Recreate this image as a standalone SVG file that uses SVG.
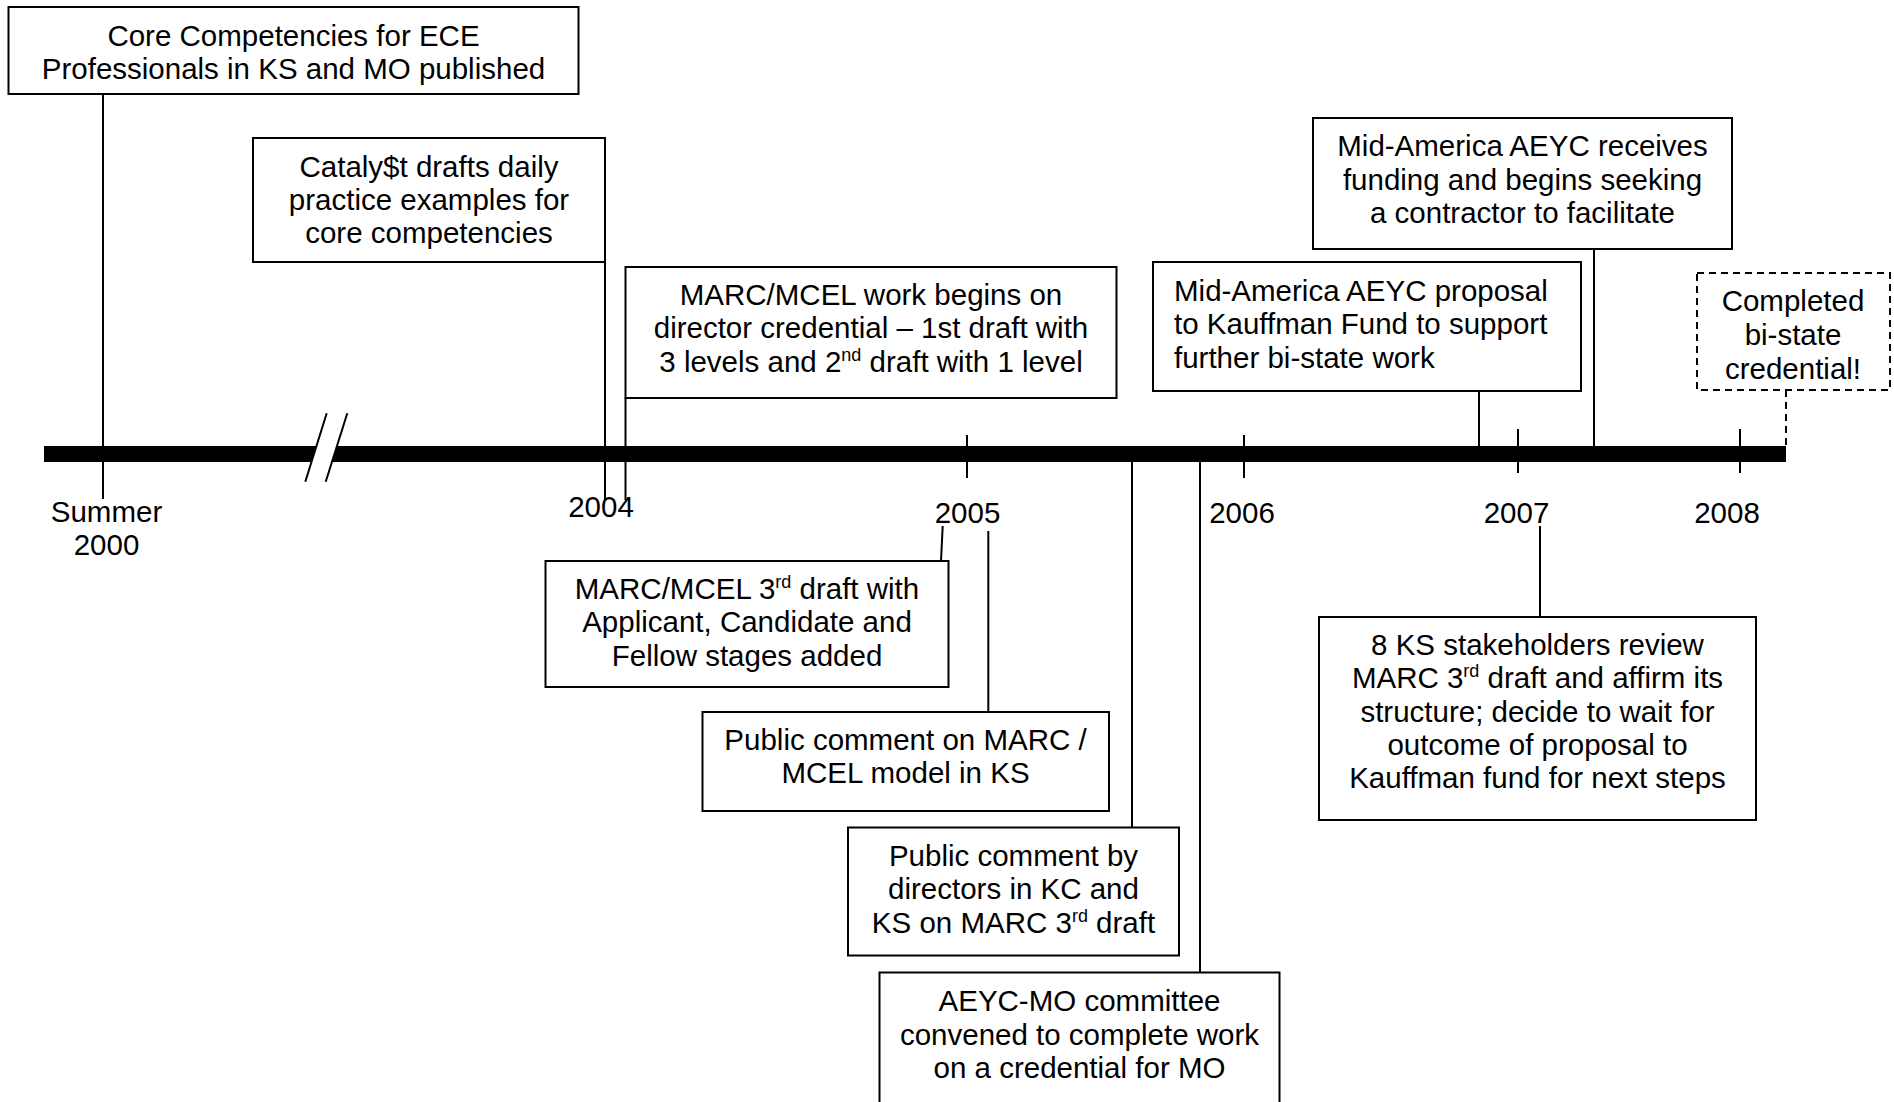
<svg xmlns="http://www.w3.org/2000/svg" width="1894" height="1102" viewBox="0 0 1894 1102">
<style>
  .box { fill: #fff; stroke: #000; stroke-width: 2; }
  .dash { fill: #fff; stroke: #000; stroke-width: 2; stroke-dasharray: 7 5; }
  .ln { stroke: #000; stroke-width: 2; fill: none; }
  .dln { stroke: #000; stroke-width: 2; fill: none; stroke-dasharray: 7 5; }
  text { font-family: "Liberation Sans", Arial, sans-serif; font-size: 29.5px; fill: #000; }
  .c { text-anchor: middle; }
  .sup { font-size: 18px; }
</style>
<rect width="1894" height="1102" fill="#fff"/>

<g id="connectors">
  <line class="ln" x1="103" y1="94" x2="103" y2="499"/>
  <line class="ln" x1="605" y1="262" x2="605" y2="500"/>
  <line class="ln" x1="625.5" y1="398" x2="625.5" y2="500"/>
  <line class="ln" x1="967" y1="435" x2="967" y2="478"/>
  <line class="ln" x1="1244" y1="435" x2="1244" y2="478"/>
  <line class="ln" x1="1518" y1="429" x2="1518" y2="473"/>
  <line class="ln" x1="1740" y1="429" x2="1740" y2="473"/>
  <line class="ln" x1="1479" y1="391" x2="1479" y2="446"/>
  <line class="ln" x1="1594" y1="249" x2="1594" y2="446"/>
  <line class="dln" x1="1786" y1="390" x2="1786" y2="446"/>
  <line class="ln" x1="942.7" y1="526" x2="941" y2="561"/>
  <line class="ln" x1="988.3" y1="531" x2="988.3" y2="712"/>
  <line class="ln" x1="1132" y1="462" x2="1132" y2="827.5"/>
  <line class="ln" x1="1200" y1="462" x2="1200" y2="972.5"/>
  <line class="ln" x1="1540" y1="526" x2="1540" y2="617"/>
</g>

<g id="axis">
  <rect x="44" y="446" width="1742" height="16" fill="#000"/>
  <polygon points="326.7,413.3 347.3,413.3 325.7,481.7 305.3,481.7" fill="#fff"/>
  <line class="ln" x1="326.7" y1="413.3" x2="305.3" y2="481.7"/>
  <line class="ln" x1="347.3" y1="413.3" x2="325.7" y2="481.7"/>
</g>

<g id="year-labels">
  <text class="c" x="106.5" y="522">Summer</text>
  <text class="c" x="106.5" y="555">2000</text>
  <text class="c" x="601" y="517">2004</text>
  <text class="c" x="967.5" y="523">2005</text>
  <text class="c" x="1242" y="523">2006</text>
  <text class="c" x="1516.5" y="523">2007</text>
  <text class="c" x="1727" y="523">2008</text>
</g>

<g id="node-core">
  <rect class="box" x="8.5" y="7" width="570" height="87"/>
  <text class="c" x="293.5" y="45.5">Core Competencies for ECE</text>
  <text class="c" x="293.5" y="78.5">Professionals in KS and MO published</text>
</g>

<g id="node-catalyst">
  <rect class="box" x="253" y="138" width="352" height="124"/>
  <text class="c" x="429" y="176.5">Cataly$t drafts daily</text>
  <text class="c" x="429" y="209.5">practice examples for</text>
  <text class="c" x="429" y="242.5">core competencies</text>
</g>

<g id="node-marc-work">
  <rect class="box" x="625.5" y="267" width="491" height="131"/>
  <text class="c" x="871" y="305">MARC/MCEL work begins on</text>
  <text class="c" x="871" y="338">director credential – 1st draft with</text>
  <text class="c" x="871" y="372">3 levels and 2<tspan class="sup" dy="-11">nd</tspan><tspan dy="11"> draft with 1 level</tspan></text>
</g>

<g id="node-receives">
  <rect class="box" x="1313" y="118" width="419" height="131"/>
  <text class="c" x="1522.5" y="156">Mid-America AEYC receives</text>
  <text class="c" x="1522.5" y="189.5">funding and begins seeking</text>
  <text class="c" x="1522.5" y="223">a contractor to facilitate</text>
</g>

<g id="node-proposal">
  <rect class="box" x="1153" y="262" width="428" height="129"/>
  <text x="1174" y="300.5">Mid-America AEYC proposal</text>
  <text x="1174" y="334">to Kauffman Fund to support</text>
  <text x="1174" y="367.5">further bi-state work</text>
</g>

<g id="node-completed">
  <rect class="dash" x="1697" y="273" width="193" height="117"/>
  <text class="c" x="1793" y="311">Completed</text>
  <text class="c" x="1793" y="345">bi-state</text>
  <text class="c" x="1793" y="379">credential!</text>
</g>

<g id="node-marc-3rd">
  <rect class="box" x="545.5" y="561" width="403" height="126"/>
  <text class="c" x="747" y="598.5">MARC/MCEL 3<tspan class="sup" dy="-11">rd</tspan><tspan dy="11"> draft with</tspan></text>
  <text class="c" x="747" y="632">Applicant, Candidate and</text>
  <text class="c" x="747" y="665.5">Fellow stages added</text>
</g>

<g id="node-public-marc">
  <rect class="box" x="702.5" y="712" width="406.5" height="99"/>
  <text class="c" x="905.5" y="749.5">Public comment on MARC /</text>
  <text class="c" x="905.5" y="782.5">MCEL model in KS</text>
</g>

<g id="node-public-directors">
  <rect class="box" x="848" y="827.5" width="331" height="128"/>
  <text class="c" x="1013.5" y="865.5">Public comment by</text>
  <text class="c" x="1013.5" y="899">directors in KC and</text>
  <text class="c" x="1013.5" y="933">KS on MARC 3<tspan class="sup" dy="-11">rd</tspan><tspan dy="11"> draft</tspan></text>
</g>

<g id="node-aeyc-mo">
  <rect class="box" x="879.5" y="972.5" width="400" height="140"/>
  <text class="c" x="1079.5" y="1011">AEYC-MO committee</text>
  <text class="c" x="1079.5" y="1045">convened to complete work</text>
  <text class="c" x="1079.5" y="1077.5">on a credential for MO</text>
</g>

<g id="node-ks-stakeholders">
  <rect class="box" x="1319" y="617" width="437" height="203"/>
  <text class="c" x="1537.5" y="654.5">8 KS stakeholders review</text>
  <text class="c" x="1537.5" y="688">MARC 3<tspan class="sup" dy="-11">rd</tspan><tspan dy="11"> draft and affirm its</tspan></text>
  <text class="c" x="1537.5" y="721.5">structure; decide to wait for</text>
  <text class="c" x="1537.5" y="755">outcome of proposal to</text>
  <text class="c" x="1537.5" y="788">Kauffman fund for next steps</text>
</g>
</svg>
